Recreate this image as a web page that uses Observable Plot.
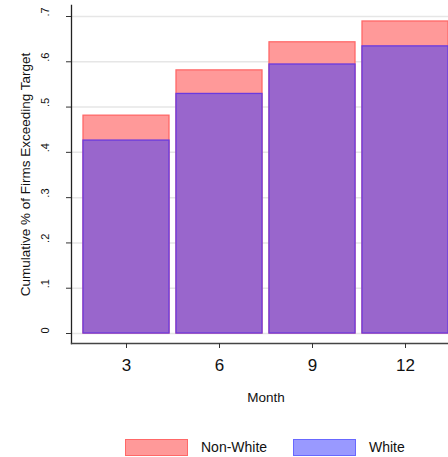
<!DOCTYPE html>
<html>
<head>
<meta charset="utf-8">
<script src="https://cdn.jsdelivr.net/npm/d3@7"></script>
<script src="https://cdn.jsdelivr.net/npm/@observablehq/plot@0.6"></script>
<style>
  html, body { margin: 0; padding: 0; background: white; overflow: hidden; }
  body { width: 448px; height: 457px; font-family: "Liberation Sans", Arial, sans-serif; }
  #legend { position: relative; height: 25px; }
  .sw { position: absolute; top: 7px; width: 63px; height: 17px; box-sizing: border-box; }
  .lt { position: absolute; top: 6px; font-size: 14px; line-height: 18px; color: #111; }
</style>
</head>
<body>
<div id="chart"></div>
<div id="legend"></div>
<script>
const months = [3, 6, 9, 12];
const nonWhite = [0.481, 0.581, 0.643, 0.689];
const white = [0.426, 0.529, 0.594, 0.634];
const yTicks = [0, 0.1, 0.2, 0.3, 0.4, 0.5, 0.6, 0.7];
const yTickLabels = ["0", ".1", ".2", ".3", ".4", ".5", ".6", ".7"];
const seriesNames = ["Non-White", "White"];

const redData = months.map((m, i) => ({month: m, value: nonWhite[i]}));
const blueData = months.map((m, i) => ({month: m, value: white[i]}));
const yTickData = yTicks.map((t, i) => ({t, label: yTickLabels[i]}));

const font = "Liberation Sans, Arial, sans-serif";

const chart = Plot.plot({
  width: 448,
  height: 432,
  marginLeft: 71,
  marginRight: 0,
  marginTop: 5,
  marginBottom: 89,
  style: {fontFamily: font, background: "white", overflow: "hidden"},
  x: {type: "band", domain: months, range: [74.5, 456], padding: 0.08},
  y: {domain: [0, 0.7], range: [333, 16]},
  marks: [
    Plot.gridY(yTicks, {stroke: "#e6e6e6", strokeOpacity: 1, strokeWidth: 1.5}),
    Plot.barY(redData, {x: "month", y: "value", fill: "#ff9999", stroke: "#ff6868", strokeWidth: 1.3, inset: 0}),
    Plot.barY(blueData, {x: "month", y: "value", fill: "#9966cc", stroke: "#6a3adf", strokeWidth: 1.3, inset: 0}),
    Plot.frame({anchor: "left", stroke: "#222", strokeWidth: 1.3}),
    Plot.frame({anchor: "bottom", stroke: "#444", strokeWidth: 1.3}),
    Plot.axisX({tickSize: 5, tickPadding: 10, fontSize: 17, label: null, stroke: "#333", fill: "#111"}),
    Plot.axisY({ticks: yTicks, tickSize: 5, tickFormat: () => "", label: null, stroke: "#333"}),
    Plot.text(yTickData, {y: "t", text: "label", frameAnchor: "left", dx: -26, rotate: -90, fontSize: 11, fill: "#111"}),
    Plot.text(["Cumulative % of Firms Exceeding Target"], {frameAnchor: "middle", dx: -234.5, rotate: -90, fontSize: 13.5, fill: "#111", text: d => d}),
    Plot.text(["Month"], {frameAnchor: "bottom", dx: 6, dy: 58, fontSize: 13.5, fill: "#111", text: d => d})
  ]
});
document.getElementById("chart").appendChild(chart);

const legend = document.getElementById("legend");
const items = [
  {name: seriesNames[0], fill: "#ff9999", stroke: "#ff6868", left: 125, textLeft: 201},
  {name: seriesNames[1], fill: "#9999ff", stroke: "#6868ff", left: 293, textLeft: 369}
];
for (const it of items) {
  const sw = document.createElement("div");
  sw.className = "sw";
  sw.style.left = it.left + "px";
  sw.style.background = it.fill;
  sw.style.border = "1.3px solid " + it.stroke;
  legend.appendChild(sw);
  const t = document.createElement("div");
  t.className = "lt";
  t.style.left = it.textLeft + "px";
  t.textContent = it.name;
  legend.appendChild(t);
}
</script>
</body>
</html>
